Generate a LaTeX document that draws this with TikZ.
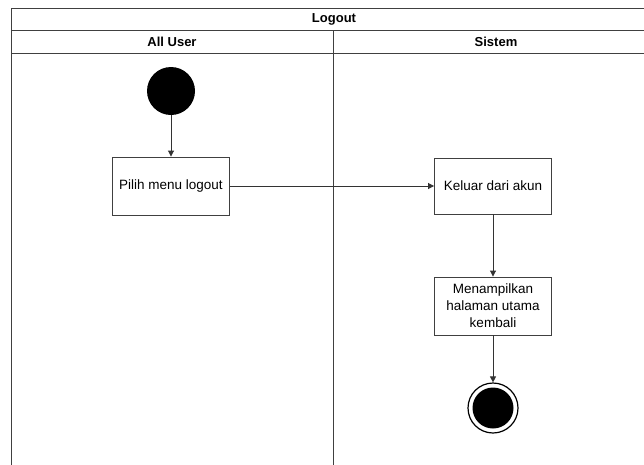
\documentclass[tikz,border=0pt]{standalone}
\usepackage{fontspec}
\setmainfont{Liberation Sans}
\usetikzlibrary{arrows.meta}
\begin{document}
\begin{tikzpicture}[x=1pt,y=-1pt,
  lane/.style={draw=black!75, line width=0.9pt},
  act/.style={draw=black!75, line width=0.9pt, fill=white, minimum width=117pt,
    minimum height=58pt, align=center, inner sep=2pt,
    font=\fontsize{13.5}{17}\selectfont},
  flow/.style={draw=black!80, line width=0.9pt, -{Triangle[length=6pt,width=6pt]}},
  hdr/.style={font=\bfseries\fontsize{13}{15}\selectfont}]
\useasboundingbox (0,0) rectangle (644,464);
% swimlane frame
\draw[lane] (11,480) -- (11,8) -- (660,8);
\draw[lane] (11,30) -- (660,30);
\draw[lane] (11,53) -- (660,53);
\draw[lane] (333,30) -- (333,480);
\node[hdr] (pool) at (334,19) {Logout};
\node[hdr] (laneA) at (172,42) {All User};
\node[hdr] (laneB) at (496,42) {Sistem};
% activity nodes
\node[circle, fill=black, minimum size=48pt, inner sep=0pt] (start) at (171,91) {};
\node[act] (pilih) at (171,186) {Pilih menu logout};
\node[act, minimum height=56pt] (keluar) at (493,186) {Keluar dari akun};
\node[act] (tampil) at (493,306) {Menampilkan\\halaman utama\\kembali};
\node[circle, draw=black, line width=1.2pt, fill=white, minimum size=50pt, inner sep=0pt] (end) at (493,408) {};
\fill[black] (end.center) circle (20.5pt);
% control flow
\draw[flow] (start) -- (pilih);
\draw[flow] (pilih.east) -- (keluar.west);
\draw[flow] (keluar) -- (tampil);
\draw[flow] (tampil) -- (end);
\end{tikzpicture}
\end{document}
